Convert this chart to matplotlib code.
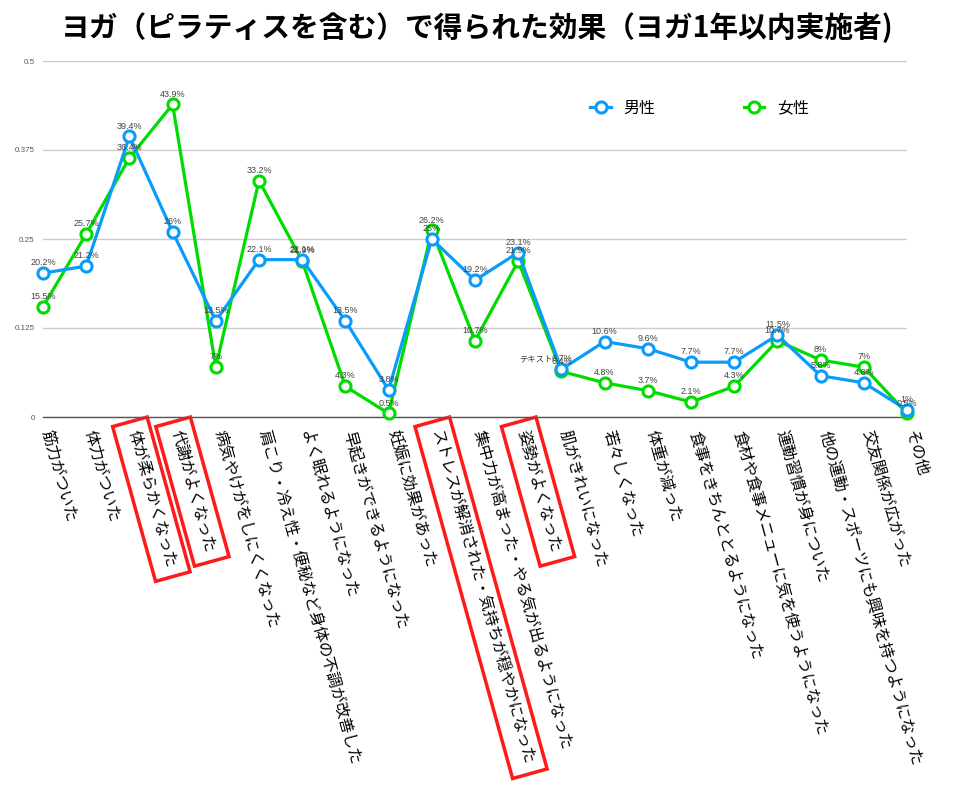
import matplotlib
matplotlib.use("Agg")
import matplotlib.pyplot as plt
import matplotlib.transforms as mtransforms

plt.rcParams['font.family'] = ['Noto Sans CJK JP', 'DejaVu Sans']

title = "ヨガ（ピラティスを含む）で得られた効果（ヨガ1年以内実施者)"

categories = [
    "筋力がついた",
    "体力がついた",
    "体が柔らかくなった",
    "代謝がよくなった",
    "病気やけがをしにくくなった",
    "肩こり・冷え性・便秘など身体の不調が改善した",
    "よく眠れるようになった",
    "早起きができるようになった",
    "妊娠に効果があった",
    "ストレスが解消された・気持ちが穏やかになった",
    "集中力が高まった・やる気が出るようになった",
    "姿勢がよくなった",
    "肌がきれいになった",
    "若々しくなった",
    "体重が減った",
    "食事をきちんととるようになった",
    "食材や食事メニューに気を使うようになった",
    "運動習慣が身についた",
    "他の運動・スポーツにも興味を持つようになった",
    "交友関係が広がった",
    "その他",
]

male = [20.2, 21.2, 39.4, 26, 13.5, 22.1, 22.1, 13.5, 3.8, 25, 19.2,
        23.1, 6.7, 10.6, 9.6, 7.7, 7.7, 11.5, 5.8, 4.8, 1]
female = [15.5, 25.7, 36.4, 43.9, 7, 33.2, 21.9, 4.3, 0.5, 26.2, 10.7,
          21.9, 6.4, 4.8, 3.7, 2.1, 4.3, 10.7, 8, 7, 0.5]

series_names = ["男性", "女性"]
highlighted = ["体が柔らかくなった", "代謝がよくなった",
               "ストレスが解消された・気持ちが穏やかになった", "姿勢がよくなった"]
yticks = [0, 0.125, 0.25, 0.375, 0.5]
ytick_labels = ["0", "0.125", "0.25", "0.375", "0.5"]
stray_text = "テキスト"

blue = "#0b9bfb"
green = "#00dc00"

fig = plt.figure(figsize=(9.61, 7.92), dpi=100)
ax = fig.add_axes([43 / 961, 1 - 417 / 792, 864 / 961, 356 / 792])

x = list(range(len(categories)))
m_vals = [v / 100 for v in male]
f_vals = [v / 100 for v in female]

lm, = ax.plot(x, m_vals, color=blue, lw=2.3, marker='o', ms=8, mfc='white',
              mec=blue, mew=2.2, zorder=4, clip_on=False, label=series_names[0])
lf, = ax.plot(x, f_vals, color=green, lw=2.3, marker='o', ms=8, mfc='white',
              mec=green, mew=2.2, zorder=3, clip_on=False, label=series_names[1])

for xi, v, fv in zip(x, male, m_vals):
    ax.annotate(f"{v:g}%", (xi, fv), xytext=(0, 7.5), textcoords='offset points',
                ha='center', va='center', fontsize=6.5, color='#444444',
                family='Liberation Sans', zorder=6, annotation_clip=False)
for xi, v, fv in zip(x, female, f_vals):
    ax.annotate(f"{v:g}%", (xi, fv), xytext=(0, 7.5), textcoords='offset points',
                ha='center', va='center', fontsize=6.5, color='#444444',
                family='Liberation Sans', zorder=6, annotation_clip=False)

# stray text label from the original chart
ki = categories.index("肌がきれいになった")
ax.annotate(stray_text, (x[ki], m_vals[ki]), xytext=(-6, 7), textcoords='offset points',
            ha='right', va='center', fontsize=6, color='#333333', zorder=6)

ax.set_xlim(0, len(categories) - 1)
ax.set_ylim(0, 0.5)
ax.set_yticks(yticks)
ax.set_yticklabels(ytick_labels, fontsize=5.8, color='#555555', family='Liberation Sans')
ax.tick_params(axis='y', length=0, pad=6)
ax.grid(axis='y', color='#cccccc', lw=1)
ax.set_axisbelow(True)
for s in ['top', 'right', 'left']:
    ax.spines[s].set_visible(False)
ax.spines['bottom'].set_color('#555555')
ax.spines['bottom'].set_linewidth(1)
ax.spines['bottom'].set_zorder(2)

ax.set_xticks(x)
ax.set_xticklabels(categories, rotation=-74.5, rotation_mode='anchor',
                   ha='left', va='center', fontsize=11.3, color='black')
ax.tick_params(axis='x', length=0, pad=10)
offset = mtransforms.ScaledTranslation(3 / 100, 0, fig.dpi_scale_trans)
for lab in ax.get_xticklabels():
    lab.set_transform(lab.get_transform() + offset)
    if lab.get_text() in highlighted:
        lab.set_bbox(dict(boxstyle='square,pad=0.6', fc='none', ec='#ff1a1a', lw=2.5))

ax.legend(handles=[lm, lf], loc='center', bbox_to_anchor=(0.76, 0.868), ncol=2,
          frameon=False, fontsize=11.5, handlelength=1.3, handletextpad=0.8,
          columnspacing=5.5)

fig.text(0.497, 0.965, title, ha='center', va='center', fontsize=20.7, fontweight='bold')

fig.savefig("out.png", dpi=100, facecolor='white')
